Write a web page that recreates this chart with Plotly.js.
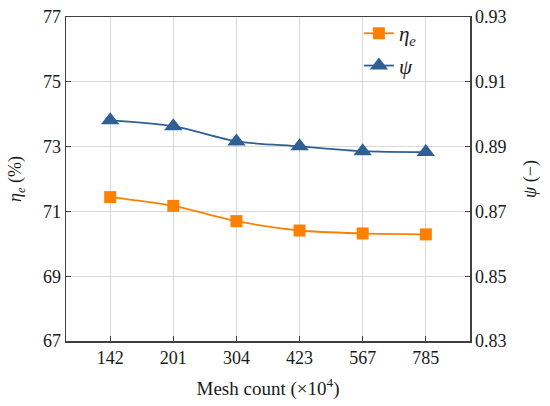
<!DOCTYPE html>
<html>
<head>
<meta charset="utf-8">
<script src="https://cdn.plot.ly/plotly-3.0.1.min.js"></script>
<style>html,body{margin:0;padding:0;background:#fff;}#chart{width:550px;height:406px;}</style>
</head>
<body>
<div id="chart"></div>
<script>
const meshCounts = ["142", "201", "304", "423", "567", "785"];
const etaE = [71.44, 71.17, 70.70, 70.41, 70.32, 70.29];
const psi = [0.8981, 0.8963, 0.8916, 0.8901, 0.8886, 0.8883];
const yLeftTicks = [67, 69, 71, 73, 75, 77];
const yRightTicks = [0.83, 0.85, 0.87, 0.89, 0.91, 0.93];

const orange = "#FF8000";
const blue = "#2E6096";
const font = "Liberation Serif";

const traces = [
  {
    x: meshCounts, y: etaE, name: "<i>η</i><sub><i>e</i></sub>",
    type: "scatter", mode: "lines+markers", yaxis: "y",
    line: {color: orange, width: 1.8, shape: "spline", smoothing: 0.8},
    marker: {symbol: "square", size: 12, color: orange},
    legendgroup: "a"
  },
  {
    x: meshCounts, y: psi, name: "<i>ψ</i>",
    type: "scatter", mode: "lines+markers", yaxis: "y2",
    line: {color: blue, width: 1.8, shape: "spline", smoothing: 0.8},
    marker: {symbol: "triangle-up", size: 16, color: blue},
    legendgroup: "b"
  }
];

const layout = {
  width: 550, height: 406,
  margin: {l: 66, r: 80, t: 17, b: 65},
  paper_bgcolor: "#fff", plot_bgcolor: "#fff",
  font: {family: font, size: 18, color: "#1a1a1a"},
  showlegend: true,
  legend: {x: 0.725, y: 1.012, xanchor: "left", yanchor: "top",
           bgcolor: "rgba(0,0,0,0)", font: {family: font, size: 21},
           traceorder: "grouped", tracegroupgap: 2},
  xaxis: {
    type: "category", range: [-0.7, 5.7],
    tickvals: meshCounts, ticktext: meshCounts,
    tickfont: {family: font, size: 18},
    showline: true, linecolor: "#404040", linewidth: 1.5, mirror: true,
    ticks: "inside", ticklen: 5, tickcolor: "#404040", tickwidth: 1.2,
    showgrid: true, gridcolor: "#d9d9d9", gridwidth: 1,
    zeroline: false,
    title: {text: "Mesh count (×10<sup>4</sup>)", font: {family: font, size: 19}, standoff: 14}
  },
  yaxis: {
    range: [67, 77], tickvals: yLeftTicks, ticktext: yLeftTicks.map(String),
    tickfont: {family: font, size: 18},
    showline: true, linecolor: "#404040", linewidth: 1.5,
    ticks: "inside", ticklen: 5, tickcolor: "#404040", tickwidth: 1.2,
    showgrid: true, gridcolor: "#d9d9d9", gridwidth: 1, zeroline: false,
    title: {text: "<i>η</i><sub><i>e</i></sub> (%)", font: {family: font, size: 18}, standoff: 16}
  },
  yaxis2: {
    range: [0.83, 0.93], tickvals: yRightTicks, ticktext: yRightTicks.map(v => v.toFixed(2)),
    tickfont: {family: font, size: 18},
    overlaying: "y", side: "right",
    showline: true, linecolor: "#404040", linewidth: 1.5,
    ticks: "inside", ticklen: 5, tickcolor: "#404040", tickwidth: 1.2,
    showgrid: false, zeroline: false,
    title: {text: "<i>ψ</i> (−)", font: {family: font, size: 18}, standoff: 18}
  }
};

Plotly.newPlot("chart", traces, layout, {displayModeBar: false, staticPlot: true});
</script>
</body>
</html>
